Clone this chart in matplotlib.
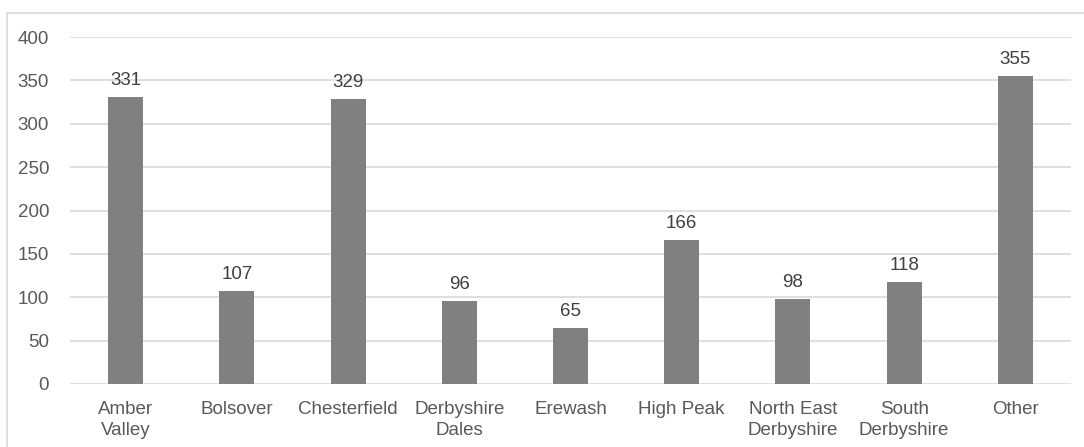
import matplotlib
matplotlib.use("Agg")
import matplotlib.pyplot as plt
from matplotlib.patches import Rectangle

categories = ["Amber\nValley", "Bolsover", "Chesterfield", "Derbyshire\nDales", "Erewash",
              "High Peak", "North East\nDerbyshire", "South\nDerbyshire", "Other"]
values = [331, 107, 329, 96, 65, 166, 98, 118, 355]
yticks = [0, 50, 100, 150, 200, 250, 300, 350, 400]

plt.rcParams['font.family'] = ['Liberation Sans', 'DejaVu Sans']
txt = '#595959'
fs = 13.5

fig = plt.figure(figsize=(10.84, 4.47), dpi=100)
ax = fig.add_axes([70/1084, 1-384/447, (1071-70)/1084, (384-37)/447])

x = list(range(len(categories)))
ax.bar(x, values, width=0.315, color='#808080', zorder=3)
for xi, v in zip(x, values):
    ax.text(xi, v + 9, str(v), ha='center', va='bottom', fontsize=fs, color='#404040')

ax.set_xlim(-0.5, len(categories) - 0.5)
ax.set_ylim(0, 400)
ax.set_yticks(yticks)
ax.set_xticks(x)
ax.set_xticklabels(categories, fontsize=fs, color=txt, linespacing=1.3)
ax.tick_params(axis='y', labelsize=fs, labelcolor=txt, length=0, pad=15)
ax.tick_params(axis='x', length=0, pad=12)
ax.grid(axis='y', color='#d9d9d9', linewidth=1.2, zorder=0)
for s in ax.spines.values():
    s.set_visible(False)

fig.patches.append(Rectangle((7/1084, -0.1), 2.0, 0.1 + 1 - 13/447, transform=fig.transFigure,
                             fill=False, edgecolor='#d9d9d9', linewidth=1.2))

fig.savefig('out.png', dpi=100)
